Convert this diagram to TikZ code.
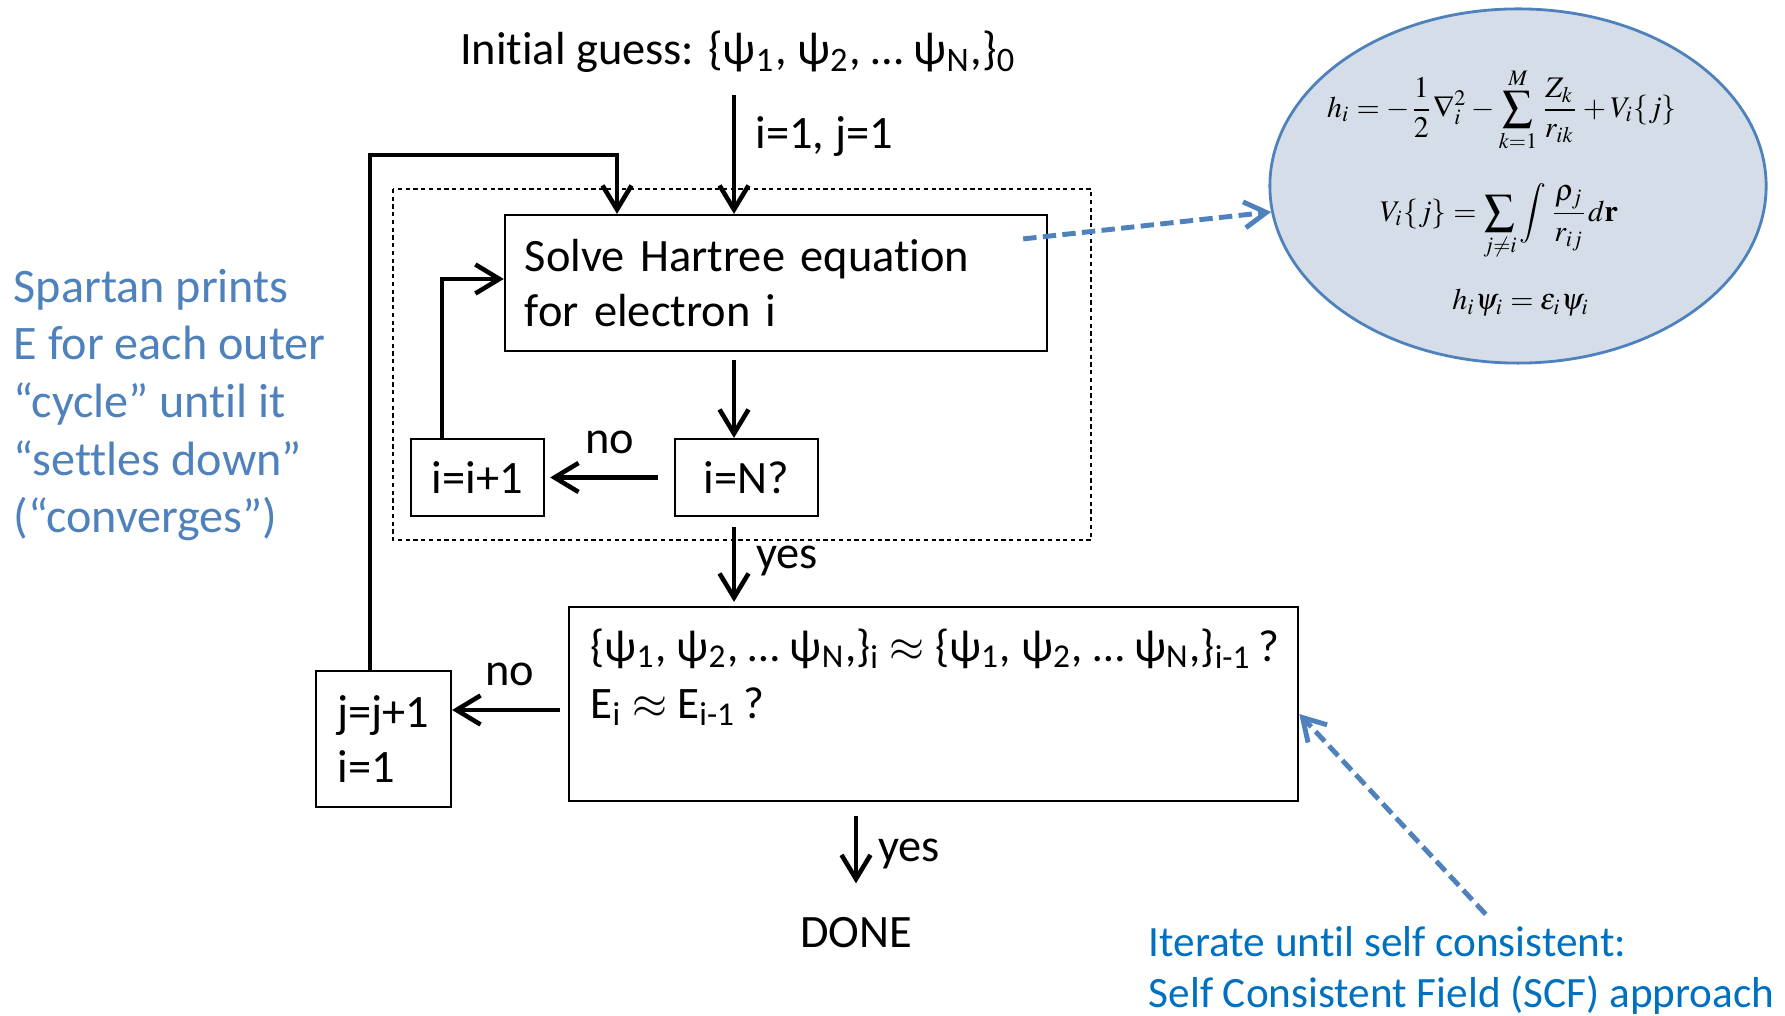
\documentclass[tikz,border=0pt]{standalone}
\usepackage{amsmath,amssymb}
\usepackage{mathptmx}
\usepackage{fontspec}
\setmainfont{Carlito}[Ligatures=CommonOff]
\usetikzlibrary{arrows.meta,positioning,calc,shapes.geometric}

\definecolor{noteblue}{RGB}{79,129,189}
\definecolor{scfblue}{RGB}{0,112,192}
\definecolor{bubblefill}{RGB}{213,222,232}

\begin{document}
\begin{tikzpicture}[
    x=0.01cm, y=-0.01cm,
    font=\fontsize{13.2pt}{15.6pt}\selectfont,
    flow/.style={-{Straight Barb[length=2.4mm,width=2.9mm]}, line width=1.3pt},
    stepbox/.style={draw, line width=0.6pt, inner sep=0pt, align=left},
    groupbox/.style={draw, dash pattern=on 1.2pt off 1pt, line width=0.45pt},
    note/.style={-{Straight Barb[length=2.2mm,width=2.6mm]}, noteblue, line width=1.4pt, dash pattern=on 3.8pt off 1.8pt},
    bubble/.style={ellipse, draw=noteblue, fill=bubblefill, line width=0.8pt, inner sep=0pt},
    eqn/.style={font=\fontsize{8.5pt}{10pt}\selectfont},
    remark/.style={align=left, anchor=west, inner sep=0pt}
]
    \useasboundingbox (0,0) rectangle (1785,1016);

    % inner loop frame (dashed)
    \draw[groupbox] (393,189) rectangle (1091,540);

    % start
    \node (init) at (738,52) {Initial guess: \{ψ\textsubscript{1}, ψ\textsubscript{2}, … ψ\textsubscript{N},\}\textsubscript{0}};
    \coordinate (spine) at (734,0);

    % boxes of the inner loop
    \node[stepbox, minimum width=5.42cm, minimum height=1.36cm, text width=5.02cm] (solve) at (776,283) {Solve Hartree equation\\for electron i};
    \node[stepbox, minimum width=1.43cm, minimum height=0.77cm] (iN) at (746.5,477.5) {i=N?};
    \node[stepbox, minimum width=1.33cm, minimum height=0.77cm] (iinc) at (477.5,477.5) {i=i+1};

    % convergence test and outer loop
    \node[stepbox, minimum width=7.29cm, minimum height=1.94cm] (check) at (933.5,704) {};
    \node[remark, font=\fontsize{12.8pt}{16.2pt}\selectfont] (checktxt) at (590,677) {\{ψ\textsubscript{1}, ψ\textsubscript{2}, … ψ\textsubscript{N},\}\textsubscript{i} $\approx$ \{ψ\textsubscript{1}, ψ\textsubscript{2}, … ψ\textsubscript{N},\}\textsubscript{i-1}\,?\\E\textsubscript{i} $\approx$ E\textsubscript{i-1}\,?};
    \node[stepbox, minimum width=1.35cm, minimum height=1.36cm] (jinc) at (383.5,739) {j=j+1\\i=1};
    \node (done) at (856,933) {DONE};

    % Hartree equations
    \node[bubble, minimum width=4.96cm, minimum height=3.54cm] (bubble) at (1518,186) {};
    \node[eqn] (eqh) at (1502,110) {$\displaystyle h_i = -\frac{1}{2}\nabla_i^2 - \sum_{k=1}^{M}\frac{Z_k}{r_{ik}} + V_i\{j\}$};
    \node[eqn] (eqv) at (1499,222) {$\displaystyle V_i\{j\} = \sum_{j\neq i}\int \frac{\rho_j}{r_{ij}}d\mathbf{r}$};
    \node[eqn] (eqe) at (1521,303) {$h_i\psi_i = \varepsilon_i\psi_i$};

    % side remarks
    \node[remark, text=noteblue, font=\fontsize{13.7pt}{16.4pt}\selectfont] (spartan) at (13,405) {Spartan prints\\E for each outer\\“cycle” until it\\“settles down”\\(“converges”)};
    \node[remark, text=scfblue, font=\fontsize{12.3pt}{14.5pt}\selectfont] (iterate) at (1148,970) {Iterate until self consistent:\\Self Consistent Field (SCF) approach};

    % connectors
    \draw[flow, shorten <=0.1cm] (init.south -| spine) -- (solve.north -| spine);
    \node[anchor=west, inner sep=0pt] (startlbl) at (755,137) {i=1, j=1};
    \draw[flow, shorten <=0.08cm] (solve.south -| spine) -- (iN.north -| spine);
    \draw[flow, shorten <=0.16cm, shorten >=0.05cm] (iN.west) -- (iinc.east) node[midway, above=0.1cm] (noin) {no};
    \draw[flow] ([xshift=-0.355cm]iinc.north) |- ([yshift=0.04cm]solve.west);
    \draw[flow, shorten <=0.1cm, shorten >=0.04cm] (iN.south -| spine) -- (check.north -| spine) node[midway, right=0.08cm] (yesin) {yes};
    \draw[flow, shorten <=0.08cm] ([yshift=-0.06cm]check.west) -- ([yshift=-0.06cm]check.west -| jinc.east) node[midway, above=0.1cm] (noout) {no};
    \coordinate (looptop) at (617,155);
    \draw[flow] ([xshift=-0.135cm]jinc.north) |- (looptop) -- (looptop |- solve.north);
    \draw[flow, shorten <=0.14cm, shorten >=0.22cm] (check.south -| done) -- (done.north) node[midway, right=0.08cm] (yesout) {yes};

    % blue notes
    \draw[note] ([xshift=-0.25cm,yshift=-0.25cm]solve.north east) -- (bubble.186);
    \draw[note] ([shift={(0.24cm,0.11cm)}]iterate.north) -- ([yshift=-0.1cm]check.east);
\end{tikzpicture}
\end{document}
